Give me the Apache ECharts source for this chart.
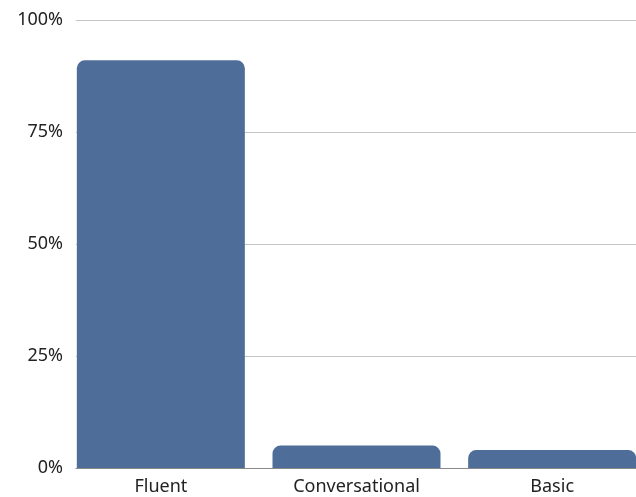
<!DOCTYPE html>
<html>
<head>
<meta charset="utf-8">
<script src="https://cdn.jsdelivr.net/npm/echarts@6/dist/echarts.min.js"></script>
<style>
  html, body { margin: 0; padding: 0; background: #fff; }
  #chart { width: 636px; height: 497px; }
</style>
</head>
<body>
<div id="chart"></div>
<script>
// 数据
var categories = ['Fluent', 'Conversational', 'Basic'];
var shares = [91, 5, 4];
var yTicks = [0, 25, 50, 75, 100];

var myChart = echarts.init(document.getElementById('chart'));

var font = 'Noto Sans';

option = {
    animation: false,
    textStyle: { fontFamily: font },
    // grid 0: gridlines + y labels, grid 1: bars (wider so bars touch the edges)
    grid: [
        { left: 76, right: 0, top: 20, bottom: 29, outerBoundsMode: 'none' },
        { left: 63, width: 587, top: 20, bottom: 29, outerBoundsMode: 'none' }
    ],
    xAxis: [
        {
            gridIndex: 0,
            type: 'value',
            min: 0,
            max: 1,
            axisLine: { show: true, lineStyle: { color: '#8a8a8a', width: 1 } },
            axisTick: { show: false },
            axisLabel: { show: false },
            splitLine: { show: false }
        },
        {
            gridIndex: 1,
            type: 'category',
            data: categories,
            axisLine: { show: false },
            axisTick: { show: false },
            axisLabel: { color: '#222', fontSize: 18, margin: 10, fontFamily: font }
        }
    ],
    yAxis: [
        {
            gridIndex: 0,
            type: 'value',
            min: yTicks[0],
            max: yTicks[yTicks.length - 1],
            interval: 25,
            axisLine: { show: false },
            axisTick: { show: false },
            axisLabel: { color: '#222', fontSize: 18, margin: 13, formatter: '{value}%', fontFamily: font },
            splitLine: { lineStyle: { color: '#c4c4c4', width: 1 } }
        },
        {
            gridIndex: 1,
            type: 'value',
            min: yTicks[0],
            max: yTicks[yTicks.length - 1],
            show: false
        }
    ],
    series: [
        {
            type: 'bar',
            xAxisIndex: 1,
            yAxisIndex: 1,
            data: shares,
            barWidth: 168,
            itemStyle: {
                color: '#4e6d99',
                borderRadius: [8, 8, 0, 0]
            }
        }
    ]
};

myChart.setOption(option);
</script>
</body>
</html>
